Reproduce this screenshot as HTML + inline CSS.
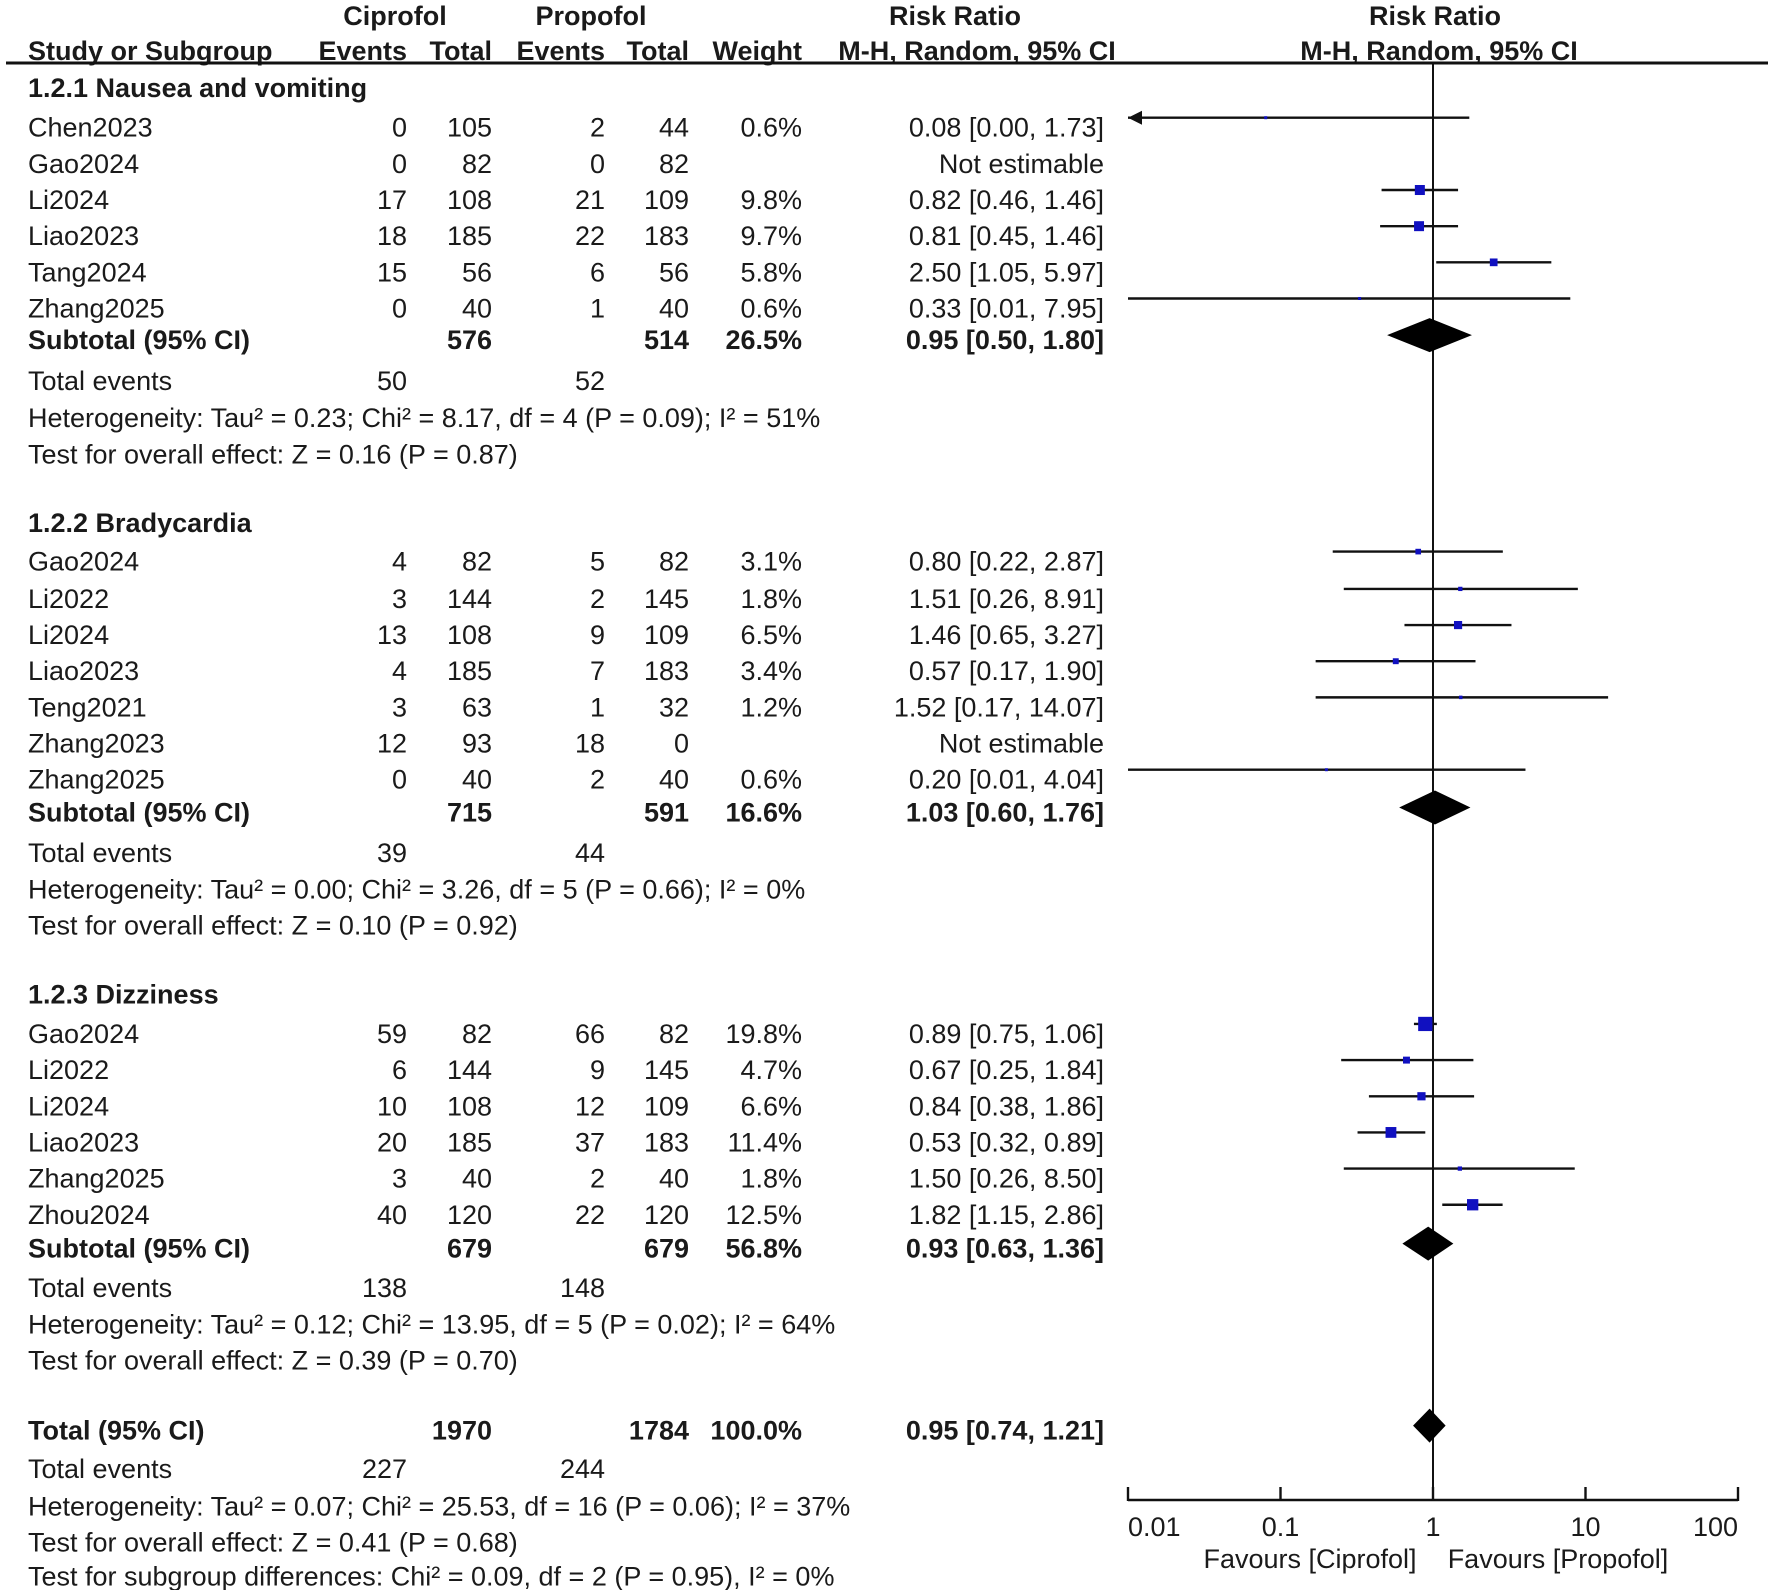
<!DOCTYPE html>
<html><head><meta charset="utf-8">
<style>
html,body{margin:0;padding:0;background:#fff;}
svg{display:block;}
text{font-family:"Liberation Sans",Arial,sans-serif;font-size:27px;fill:#1a1a1a;}
.b{font-weight:bold;}
</style></head>
<body>
<svg id="chart" width="1772" height="1590" viewBox="0 0 1772 1590" xmlns="http://www.w3.org/2000/svg">
<g id="txt"></g>
<g id="marks"></g>
</svg>
<script>
// ---- data ----
const studies = ["Chen2023","Gao2024","Li2024","Liao2023","Tang2024","Zhang2025",
 "Gao2024","Li2022","Li2024","Liao2023","Teng2021","Zhang2023","Zhang2025",
 "Gao2024","Li2022","Li2024","Liao2023","Zhang2025","Zhou2024"];
const cipEvents = [0,0,17,18,15,0, 4,3,13,4,3,12,0, 59,6,10,20,3,40];
const cipTotal  = [105,82,108,185,56,40, 82,144,108,185,63,93,40, 82,144,108,185,40,120];
const proEvents = [2,0,21,22,6,1, 5,2,9,7,1,18,2, 66,9,12,37,2,22];
const proTotal  = [44,82,109,183,56,40, 82,145,109,183,32,0,40, 82,145,109,183,40,120];
const weights   = [0.6,null,9.8,9.7,5.8,0.6, 3.1,1.8,6.5,3.4,1.2,null,0.6, 19.8,4.7,6.6,11.4,1.8,12.5];
const rr        = [0.08,null,0.82,0.81,2.50,0.33, 0.80,1.51,1.46,0.57,1.52,null,0.20, 0.89,0.67,0.84,0.53,1.50,1.82];
const lo        = [0.00,null,0.46,0.45,1.05,0.01, 0.22,0.26,0.65,0.17,0.17,null,0.01, 0.75,0.25,0.38,0.32,0.26,1.15];
const hi        = [1.73,null,1.46,1.46,5.97,7.95, 2.87,8.91,3.27,1.90,14.07,null,4.04, 1.06,1.84,1.86,0.89,8.50,2.86];
const studyY    = [113,145,177,209,241,273, 497,530,562,594,626,658,690, 915,947,979,1011,1043,1075];
const subNames = ["Subtotal (95% CI)","Subtotal (95% CI)","Subtotal (95% CI)","Total (95% CI)"];
const subCT = [576,715,679,1970];
const subPT = [514,591,679,1784];
const subW = ["26.5%","16.6%","56.8%","100.0%"];
const subRR = [0.95,1.03,0.93,0.95];
const subLo = [0.50,0.60,0.63,0.74];
const subHi = [1.80,1.76,1.36,1.21];
const subY = [301,719,1105,1266];
const tickVals = [0.01,0.1,1,10,100];
const tickLabels = ["0.01","0.1","1","10","100"];

const S = 1.13, SX = 1.0;
const txt = document.getElementById('txt'), marks = document.getElementById('marks');
const NS = "http://www.w3.org/2000/svg";
function T(x, y, s, anchor, bold, name){
  const t = document.createElementNS(NS,'text');
  t.setAttribute('x', (x/SX).toFixed(1));
  t.setAttribute('y', y);
  if(anchor) t.setAttribute('text-anchor', anchor);
  if(bold) t.setAttribute('class','b');
  t.textContent = s;
  
  
  txt.appendChild(t);
  return t;
}
function E(tag, attrs, name){
  const e = document.createElementNS(NS, tag);
  for(const k in attrs) e.setAttribute(k, attrs[k]);
  
  
  marks.appendChild(e);
  return e;
}
const xmin = 1128, xmax = 1738;
function xs(v){ return xmin + (Math.log10(v) + 2) / 4 * (xmax - xmin); }
const colX = {study:28, ce:407, ct:492, pe:605, pt:689, w:802, rr:1104};
const base = d => d*S + 9;
const f2 = v => v.toFixed(2);

T(395, 25, "Ciprofol", "middle", true, "header-ciprofol");
T(591, 25, "Propofol", "middle", true, "header-propofol");
T(955, 25, "Risk Ratio", "middle", true, "header-risk-ratio");
T(1435, 25, "Risk Ratio", "middle", true, "header-risk-ratio-plot");
T(28, 60, "Study or Subgroup", null, true, "header-study");
T(407, 60, "Events", "end", true, "header-events-cipro");
T(492, 60, "Total", "end", true, "header-total-cipro");
T(605, 60, "Events", "end", true, "header-events-pro");
T(689, 60, "Total", "end", true, "header-total-pro");
T(802, 60, "Weight", "end", true, "header-weight");
T(977, 60, "M-H, Random, 95% CI", "middle", true, "header-mh");
T(1439, 60, "M-H, Random, 95% CI", "middle", true, "header-mh-plot");
E('line',{x1:6,y1:63,x2:1768,y2:63,stroke:'#111','stroke-width':3},'header-rule');
E('line',{x1:xs(1),y1:63,x2:xs(1),y2:1500,stroke:'#111','stroke-width':2},'line-of-no-effect');

T(28, base(78), "1.2.1 Nausea and vomiting", null, true, "subgroup-title");
T(28, base(463), "1.2.2 Bradycardia", null, true, "subgroup-title");
T(28, base(880), "1.2.3 Dizziness", null, true, "subgroup-title");

for(let i=0;i<studies.length;i++){
  const y = base(studyY[i]);
  T(colX.study, y, studies[i], null, false, "study-name");
  T(colX.ce, y, String(cipEvents[i]), "end", false, "cipro-events");
  T(colX.ct, y, String(cipTotal[i]), "end", false, "cipro-total");
  T(colX.pe, y, String(proEvents[i]), "end", false, "pro-events");
  T(colX.pt, y, String(proTotal[i]), "end", false, "pro-total");
  if(weights[i]!==null) T(colX.w, y, weights[i].toFixed(1)+"%", "end", false, "weight");
  if(rr[i]===null){ T(colX.rr, y, "Not estimable", "end", false, "ci-text"); continue; }
  T(colX.rr, y, f2(rr[i])+" ["+f2(lo[i])+", "+f2(hi[i])+"]", "end", false, "ci-text");
  const my = studyY[i]*S - 10;
  const l = lo[i] < 0.01 ? 0.01 : lo[i];
  E('line',{x1:xs(l),y1:my,x2:xs(Math.min(hi[i],100)),y2:my,stroke:'#111','stroke-width':2.4},'ci-line');
  if(lo[i] < 0.01){
    const ax = xs(0.01);
    E('path',{d:`M${ax},${my} l14,-7 v14 z`,fill:'#111'},'ci-arrow');
  }
  const sz = Math.max(3, Math.sqrt(weights[i])*3.2);
  E('rect',{x:xs(rr[i])-sz/2,y:my-sz/2,width:sz,height:sz,fill:'#1010c0'},'study-square');
}

const teY = [337,755,1140,1300];
const teC = [50,39,138,227], teP = [52,44,148,244];
const hetT = ["Heterogeneity: Tau² = 0.23; Chi² = 8.17, df = 4 (P = 0.09); I² = 51%",
 "Heterogeneity: Tau² = 0.00; Chi² = 3.26, df = 5 (P = 0.66); I² = 0%",
 "Heterogeneity: Tau² = 0.12; Chi² = 13.95, df = 5 (P = 0.02); I² = 64%",
 "Heterogeneity: Tau² = 0.07; Chi² = 25.53, df = 16 (P = 0.06); I² = 37%"];
const testT = ["Test for overall effect: Z = 0.16 (P = 0.87)","Test for overall effect: Z = 0.10 (P = 0.92)",
 "Test for overall effect: Z = 0.39 (P = 0.70)","Test for overall effect: Z = 0.41 (P = 0.68)"];
const hetY = [370,787,1172,1333], testY=[402,819,1204,1365];
for(let k=0;k<4;k++){
  const y = base(subY[k]);
  T(colX.study, y, subNames[k], null, true, "subtotal-label");
  T(colX.ct, y, String(subCT[k]), "end", true, "subtotal-cipro-total");
  T(colX.pt, y, String(subPT[k]), "end", true, "subtotal-pro-total");
  T(colX.w, y, subW[k], "end", true, "subtotal-weight");
  T(colX.rr, y, f2(subRR[k])+" ["+f2(subLo[k])+", "+f2(subHi[k])+"]", "end", true, "subtotal-ci");
  const my = subY[k]*S - 5;
  E('path',{d:`M${xs(subLo[k])},${my} L${xs(subRR[k])},${my-17} L${xs(subHi[k])},${my} L${xs(subRR[k])},${my+17} Z`,fill:'#000'},'subtotal-diamond');
  T(colX.study, base(teY[k]), "Total events", null, false, "total-events-label");
  T(colX.ce, base(teY[k]), String(teC[k]), "end", false, "total-events-cipro");
  T(colX.pe, base(teY[k]), String(teP[k]), "end", false, "total-events-pro");
  T(colX.study, base(hetY[k]), hetT[k], null, false, "heterogeneity");
  T(colX.study, base(testY[k]), testT[k], null, false, "overall-effect");
}
T(colX.study, base(1395), "Test for subgroup differences: Chi² = 0.09, df = 2 (P = 0.95), I² = 0%", null, false, "subgroup-differences");

E('line',{x1:xmin,y1:1500,x2:xmax,y2:1500,stroke:'#111','stroke-width':2.4},'x-axis');
for(let i=0;i<tickVals.length;i++){
  const x = xs(tickVals[i]);
  E('line',{x1:x,y1:1487,x2:x,y2:1501,stroke:'#111','stroke-width':2.4},'x-tick');
  const anc = i===0 ? "start" : (i===tickVals.length-1 ? "end" : "middle");
  T(x, 1536, tickLabels[i], anc, false, "x-tick-label");
}
T(1310, 1568, "Favours [Ciprofol]", "middle", false, "favours-ciprofol");
T(1558, 1568, "Favours [Propofol]", "middle", false, "favours-propofol");
</script>
</body></html>
